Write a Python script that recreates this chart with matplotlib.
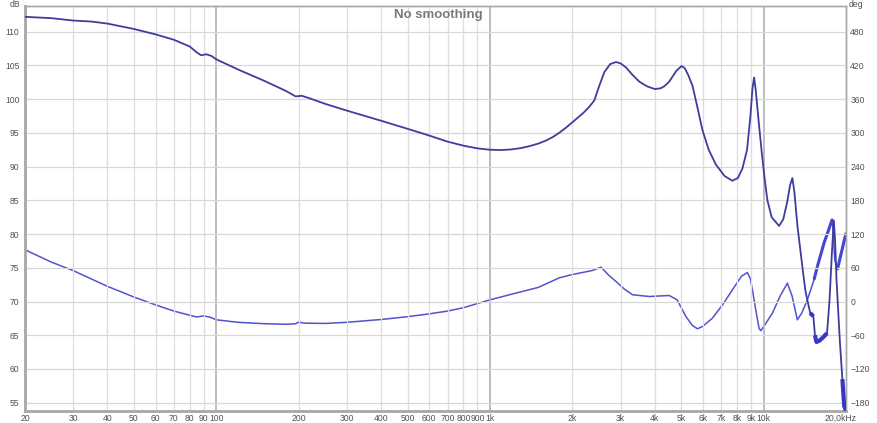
import matplotlib
matplotlib.use("Agg")
import matplotlib.pyplot as plt
import numpy as np

# ---------------- data ----------------
mag_freq = [20, 25, 30, 35, 40, 50, 60, 70, 80, 85, 88, 92, 96, 100, 120, 150, 180, 195, 205, 220,
            250, 300, 400, 500, 600, 700, 800, 900, 1000, 1100, 1200, 1300, 1400, 1500, 1600, 1700,
            1790, 1900, 2005, 2100, 2200, 2300, 2406,
            2500, 2618, 2750, 2888, 3000, 3141, 3300, 3512, 3750, 4000, 4200, 4335, 4520, 4800, 5012,
            5150, 5300, 5496, 5750, 5978, 6300, 6692, 7200, 7692, 8050, 8366, 8700, 8950, 9100, 9230,
            9350, 9500, 9628, 9850, 10100, 10324, 10700, 11388, 11800, 12200, 12500, 12736, 12950,
            13300, 13900, 14200, 14450, 14800, 15200, 15400, 15600, 16000, 16500, 17050, 17400,
            17750, 18050, 18250, 18466, 19000, 19400, 19700, 20000]
mag_db = [112.2, 112.0, 111.65, 111.5, 111.2, 110.4, 109.6, 108.8, 107.8, 106.9, 106.5, 106.65, 106.4,
          105.9, 104.4, 102.7, 101.2, 100.4, 100.5, 100.1, 99.3, 98.3, 96.8, 95.6, 94.6, 93.7, 93.1,
          92.7, 92.5, 92.45, 92.55, 92.75, 93.05, 93.4, 93.85, 94.4,
          95.0, 95.8, 96.6, 97.3, 98.0, 98.8, 99.8,
          101.8, 104.0, 105.2, 105.5, 105.3,
          104.7, 103.7, 102.6, 101.9, 101.5, 101.6, 101.9, 102.6, 104.2, 104.9, 104.6, 103.6, 102.0,
          98.5, 95.4, 92.5, 90.3, 88.6, 87.9, 88.3, 89.7, 92.5, 97.5, 101.5, 103.2, 101.5, 98.5, 96.0,
          92.0, 88.0, 85.0, 82.5, 81.2, 82.2, 84.8, 87.3, 88.3, 86.3, 81.1, 74.7, 71.7, 70.2, 68.3,
          67.8, 65.0, 64.0, 64.2, 64.7, 65.3, 70.0, 77.0, 82.0, 79.0, 73.2, 64.0, 58.5, 54.5, 53.8]

ph_freq = [20, 25, 30, 35, 40, 50, 60, 70, 80, 85, 90, 95, 100, 120, 150, 180, 195, 200, 210, 250,
           300, 400, 500, 600, 700, 800, 1000, 1200, 1500, 1790, 2000, 2370, 2546, 2700, 2888, 3100,
           3320, 3820, 4520, 4830, 5200, 5480, 5730, 6000, 6500, 7100, 7690, 8300, 8726, 8950, 9100,
           9400, 9628, 9766, 10000, 10766, 11500, 12214, 12700, 13280, 13800, 14448, 15280, 15712,
           16620, 17300, 17823, 18200, 18590, 19300, 20000]
ph_deg = [92, 70, 55, 40, 27, 8, -6, -17, -24.5, -27.5, -25.5, -28, -32.5, -37, -39.5, -40.5, -39.5,
          -36.7, -38.5, -39, -37, -32, -27, -22, -17, -11, 3, 13, 25, 42, 48, 55.2, 61.2, 48, 35.6,
          22, 12, 8.9, 10.7, 3, -26.7, -42, -48.6, -44, -29.6, -5, 20.8, 45, 51.6, 40, 20.8, -20, -48,
          -52, -45, -20.7, 10, 32.7, 10, -32.6, -20, 3, 38.6, 62, 104, 128, 146.6, 74, 56.4, 90, 121.7]

# frequency bands where the trace is visibly noisy (drawn thicker)
mag_noisy_bands = [(14600, 15300), (15350, 17050), (19300, 20000)]
ph_noisy_bands = [(14800, 17823), (18590, 20000)]

x_ticks = [20, 30, 40, 50, 60, 70, 80, 90, 100, 200, 300, 400, 500, 600, 700, 800, 900,
           1000, 2000, 3000, 4000, 5000, 6000, 7000, 8000, 9000, 10000]
x_tick_labels = ["20", "30", "40", "50", "60", "70", "80", "90", "100", "200", "300", "400", "500",
                 "600", "700", "800", "900", "1k", "2k", "3k", "4k", "5k", "6k", "7k", "8k", "9k", "10k"]
db_ticks = [55, 60, 65, 70, 75, 80, 85, 90, 95, 100, 105, 110]
deg_ticks = [-180, -120, -60, 0, 60, 120, 180, 240, 300, 360, 420, 480]

# ---------------- figure ----------------
W, H = 877, 423
fig = plt.figure(figsize=(W / 100, H / 100), dpi=100)
L, R, T, B = 25, 846, 5.7, 411
ax = fig.add_axes([L / W, 1 - B / H, (R - L) / W, (B - T) / H])
ax.set_xscale("log")
xmin, xmax = 20, 20000
ylo, yhi = 53.77, 113.85
ax.set_xlim(xmin, xmax)
ax.set_ylim(ylo, yhi)

ax2 = ax.twinx()
ax2.set_ylim((ylo - 70) * 12, (yhi - 70) * 12)
ax2.set_xlim(xmin, xmax)

tick_col = "#505050"
font = "Liberation Sans"
fs = 6.2

# grid
for f in x_ticks[1:]:
    dec = f in (100, 1000, 10000)
    ax.axvline(f, color="#b8b8b8" if dec else "#dedede", lw=1.3 if dec else 0.9, zorder=0)
for v in db_ticks:
    ax.axhline(v, color="#d8d8d8", lw=0.9, zorder=0)

ax.set_xticks(x_ticks)
ax.set_xticklabels(x_tick_labels)
ax.xaxis.set_minor_locator(matplotlib.ticker.NullLocator())
ax.set_yticks(db_ticks)
ax2.set_yticks(deg_ticks)
ax.tick_params(axis="x", length=0, labelsize=fs, colors=tick_col, pad=2)
ax.tick_params(axis="y", length=0, labelsize=fs, colors=tick_col, pad=4)
ax2.tick_params(axis="y", length=0, labelsize=fs, colors=tick_col, pad=3)
for lab in ax.get_xticklabels() + ax.get_yticklabels() + ax2.get_yticklabels():
    lab.set_fontfamily(font)
ax.annotate("20,0kHz", xy=(20000, ylo), xycoords="data", xytext=(-4, -2), textcoords="offset points",
            ha="center", va="top", fontsize=fs, color=tick_col, family=font, annotation_clip=False)
ax.text(-0.006, 1.003, "dB", transform=ax.transAxes, ha="right", va="center", fontsize=fs,
        color=tick_col, family=font)
ax.text(1.003, 1.003, "deg", transform=ax.transAxes, ha="left", va="center", fontsize=fs,
        color=tick_col, family=font)
ax.text(0.503, 0.993, "No smoothing", transform=ax.transAxes, ha="center", va="top", fontsize=9.5,
        fontweight="bold", color="#7a7a7a", family=font)

for a in (ax, ax2):
    for s in a.spines.values():
        s.set_color("#a8a8a8")
        s.set_linewidth(1.0)
ax.spines["left"].set_linewidth(2.0)
ax.spines["bottom"].set_linewidth(2.0)

# curves
mag_col = "#3d3d9e"
ph_col = "#5252cf"
ax2.plot(ph_freq, ph_deg, color=ph_col, lw=1.1, zorder=3, solid_joinstyle="round")
ax.plot(mag_freq, mag_db, color=mag_col, lw=1.3, zorder=4, solid_joinstyle="round")
ax.set_zorder(ax2.get_zorder() + 1)
ax.patch.set_visible(False)

mf = np.array(mag_freq); md = np.array(mag_db)
for lo, hi in mag_noisy_bands:
    m = (mf >= lo) & (mf <= hi)
    ax.plot(mf[m], md[m], color="#3838c8", lw=3.0, zorder=5, solid_capstyle="butt")
pf = np.array(ph_freq); pdg = np.array(ph_deg)
for lo, hi in ph_noisy_bands:
    m = (pf >= lo) & (pf <= hi)
    ax2.plot(pf[m], pdg[m], color="#4646d6", lw=2.2, zorder=5, solid_capstyle="butt")

fig.savefig("out.png", dpi=100)
